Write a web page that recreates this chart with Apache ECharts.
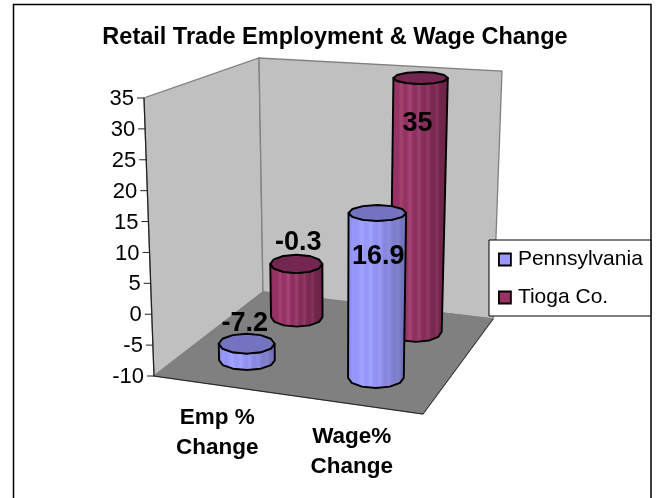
<!DOCTYPE html>
<html>
<head>
<meta charset="utf-8">
<style>html,body{margin:0;padding:0;background:#fff}#c{width:657px;height:498px}</style>
<script src="https://cdn.jsdelivr.net/npm/echarts@6/dist/echarts.min.js"></script>
</head>
<body>
<div id="c"></div>
<script>
var titleText = 'Retail Trade Employment & Wage Change';
var categories = ['Emp %\nChange', 'Wage%\nChange'];
var pennsylvania = [-7.2, 16.9];
var tioga = [-0.3, 35];
var yTicks = [-10, -5, 0, 5, 10, 15, 20, 25, 30, 35];

var FONT = '"Liberation Sans", Arial, sans-serif';
var YMIN = -10, YMAX = 35;
// projected corners of the 3D box (front/back, left/right, bottom/top)
var BOX = {
  flb: [154, 376], flt: [144, 98],
  frb: [423, 414], frt: [428, 122],
  blb: [263, 292], blt: [259, 58],
  brb: [493, 319], brt: [502, 71]
};
function mix(a, b, t) { return [a[0] + (b[0] - a[0]) * t, a[1] + (b[1] - a[1]) * t]; }
function project(u, v, h) {
  var bottom = mix(mix(BOX.flb, BOX.frb, u), mix(BOX.blb, BOX.brb, u), v);
  var top = mix(mix(BOX.flt, BOX.frt, u), mix(BOX.blt, BOX.brt, u), v);
  return mix(bottom, top, h);
}
// turn a data point into box coordinates using the chart's own scales
function toBox(api, cat, val) {
  var p0 = api.coord([0, YMIN]), pv = api.coord([cat, val]), pTop = api.coord([0, YMAX]);
  var size = api.size([1, 0]);
  var left = p0[0] - size[0] / 2;
  return { u: (pv[0] - left) / (2 * size[0]), h: (p0[1] - pv[1]) / (p0[1] - pTop[1]) };
}
function stripes(cols) {
  var stops = [];
  var n = cols.length;
  cols.forEach(function (c, i) { stops.push({ offset: i / (n - 1), color: c }); });
  return { type: 'linear', x: 0, y: 0, x2: 1, y2: 0, colorStops: stops };
}
var PENN_BODY = stripes(['#8888e2', '#8e8eec', '#9898fc', '#9494f6', '#9999ff', '#a4a4ff', '#9696fa', '#9999ff', '#a2a2ff', '#9494f6', '#9090f0', '#9a9af4', '#8a8ae6', '#8686de', '#8f8fe0', '#8080d4', '#7c7ccc', '#8484cc', '#7474c0', '#7272bc', '#7070b8']);
var TIOGA_BODY = stripes(['#872d5a', '#8f3060', '#993366', '#953264', '#a54370', '#953264', '#993366', '#a8487a', '#8f3060', '#8d2f5e', '#9c4270', '#892e5b', '#852c58', '#913a66', '#7b2952', '#78284f', '#86345e', '#712549', '#6e2549', '#6c2448', '#692346']);

function cylinderItem(depth, body, topColor, labelOf) {
  return function (params, api) {
    var cat = api.value(0), val = api.value(1);
    var b = toBox(api, cat, val);
    var u = b.u - 0.01;
    var du = 0.108, dv = 0.11;
    function ell(h) {
      var c = project(u, depth, h);
      var l = project(u - du, depth, h), r = project(u + du, depth, h);
      var f = project(u, depth - dv, h), k = project(u, depth + dv, h);
      return { c: c, rx: (r[0] - l[0]) / 2, ry: Math.abs(f[1] - k[1]) / 2 };
    }
    function pts(e, from, to, n) {
      var out = [];
      for (var i = 0; i <= n; i++) {
        var t = from + (to - from) * i / n;
        out.push([e.c[0] + e.rx * Math.cos(t), e.c[1] + e.ry * Math.sin(t)]);
      }
      return out;
    }
    var base = ell(0), top = ell(b.h);
    top.ry += 0.7;
    var bodyPts = pts(base, Math.PI, 0, 6).concat(pts(top, 0, Math.PI, 6));
    var topPts = pts(top, 0, Math.PI * 2, 12);
    var stroke = { stroke: '#000', lineWidth: 1.9, lineJoin: 'round' };
    var lab = labelOf(cat, depth);
    return {
      type: 'group',
      children: [
        { type: 'polygon', shape: { points: bodyPts }, style: Object.assign({ fill: body }, stroke) },
        { type: 'polygon', shape: { points: topPts }, style: Object.assign({ fill: topColor }, stroke) },
        { type: 'text', z2: 20, style: { x: top.c[0] + lab.dx, y: top.c[1] + lab.dy, text: String(val),
          fill: '#000', font: 'bold 27px ' + FONT, align: 'center', verticalAlign: 'middle' } }
      ]
    };
  };
}
// label placement relative to each cylinder's top, by category and row
function dataLabelPos(cat, depth) {
  var back = depth > 0.5;
  if (cat === 0) return back ? { dx: 2, dy: -21 } : { dx: -2, dy: -20 };
  return back ? { dx: -3, dy: 46 } : { dx: 1, dy: 44 };
}
function pairs(arr) { return arr.map(function (v, i) { return [i, v]; }); }

var option = {
  animation: false,
  backgroundColor: '#fff',
  title: {
    text: titleText, left: 330, top: 21, textAlign: 'center',
    textStyle: { fontFamily: FONT, fontWeight: 'bold', fontSize: 23.5, color: '#000' }
  },
  legend: {
    data: ['Pennsylvania', 'Tioga Co.'],
    orient: 'vertical', left: 489, top: 240,
    padding: [9, 8, 8, 9], itemGap: 17,
    icon: 'rect', itemWidth: 12, itemHeight: 12,
    backgroundColor: '#fff', borderColor: '#000', borderWidth: 1, borderRadius: 0,
    itemStyle: { borderColor: '#000', borderWidth: 1.8 },
    textStyle: { fontFamily: FONT, fontSize: 21, color: '#000', padding: [0, 0, 0, 2] }
  },
  graphic: [{
    type: 'rect', z: -1, silent: true,
    shape: { x: 13.5, y: 4.5, width: 637.5, height: 500 },
    style: { fill: '#fff', stroke: '#000', lineWidth: 1.5 }
  }],
  grid: { left: 154, top: 98, width: 269, height: 278 },
  xAxis: { type: 'category', data: categories, show: false },
  yAxis: { type: 'value', min: YMIN, max: YMAX, interval: 5, show: false },
  series: [
    {
      type: 'custom', name: 'frame', z: 1, silent: true, clip: false,
      data: [[0, YMIN]],
      renderItem: function () {
        var g = '#808080';
        function poly(pts, fill, stroke) {
          return { type: 'polygon', shape: { points: pts }, style: { fill: fill, stroke: stroke, lineWidth: 1.3 } };
        }
        function line(a, b, c, w) {
          return { type: 'line', shape: { x1: a[0], y1: a[1], x2: b[0], y2: b[1] }, style: { stroke: c, lineWidth: w } };
        }
        return { type: 'group', children: [
          poly([project(0,0,0), project(0,0,1), project(0,1,1), project(0,1,0)], '#c0c0c0', g),
          poly([project(0,1,0), project(0,1,1), project(1,1,1), project(1,1,0)], '#c0c0c0', g),
          poly([project(0,0,0), project(0,1,0), project(1,1,0), project(1,0,0)], g, g),
          line(project(0,0,0), project(1,0,0), '#222', 1),
          line(project(1,0,0), project(1,1,0), '#333', 1),
          line(project(0,0,0), project(0,0,1), '#222', 1.2)
        ] };
      }
    },
    {
      type: 'custom', name: 'axis', z: 1, silent: true, clip: false,
      data: yTicks.map(function (t) { return [0, t]; }),
      renderItem: function (params, api) {
        var b = toBox(api, 0, api.value(1));
        var p = project(0, 0, b.h);
        return { type: 'group', children: [
          { type: 'line', shape: { x1: p[0] - 7, y1: p[1], x2: p[0], y2: p[1] }, style: { stroke: '#222', lineWidth: 1 } },
          { type: 'text', style: { x: p[0] - 10, y: p[1] + 1, text: String(api.value(1)), fill: '#000',
            font: '22px ' + FONT, align: 'right', verticalAlign: 'middle' } }
        ] };
      }
    },
    {
      type: 'custom', name: 'categories', z: 1, silent: true, clip: false,
      data: categories.map(function (c, i) { return [i, YMIN]; }),
      renderItem: function (params, api) {
        var i = api.value(0);
        var b = toBox(api, i, YMIN);
        var p = project(b.u, 0, 0);
        return { type: 'text', style: { x: p[0] - 4, y: p[1] + 47, text: categories[i], fill: '#000',
          font: 'bold 22.5px ' + FONT, lineHeight: 30, align: 'center', verticalAlign: 'middle' } };
      }
    },
    {
      type: 'custom', name: 'Tioga Co.', z: 2, clip: false,
      itemStyle: { color: '#993366' },
      encode: { x: 0, y: 1 },
      data: pairs(tioga),
      renderItem: cylinderItem(0.785, TIOGA_BODY, '#732650', dataLabelPos)
    },
    {
      type: 'custom', name: 'Pennsylvania', z: 3, clip: false,
      itemStyle: { color: '#9999ff' },
      encode: { x: 0, y: 1 },
      data: pairs(pennsylvania),
      renderItem: cylinderItem(0.285, PENN_BODY, '#7373bf', dataLabelPos)
    }
  ]
};
var chart = echarts.init(document.getElementById('c'), null, { renderer: 'canvas' });
chart.setOption(option);
</script>
</body>
</html>
